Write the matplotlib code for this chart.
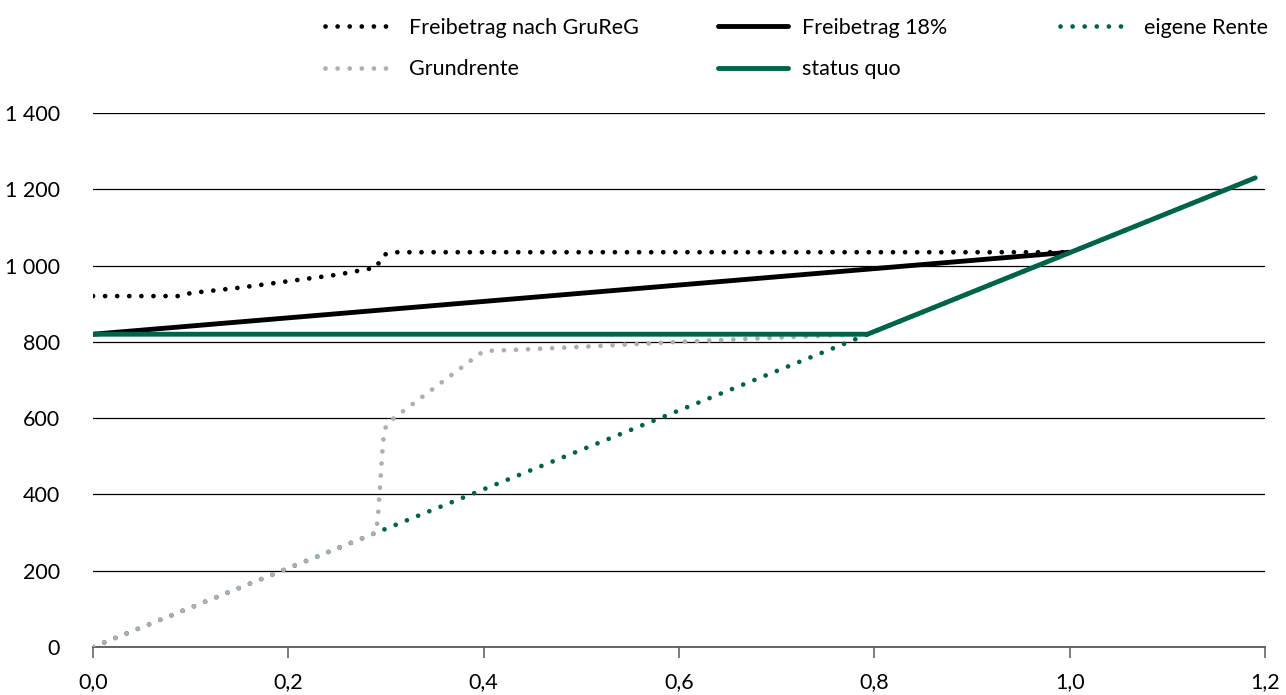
import matplotlib
matplotlib.use("Agg")
import matplotlib.pyplot as plt
from matplotlib.ticker import FuncFormatter

plt.rcParams['font.family'] = ['Lato', 'DejaVu Sans']

# ---- data ----
x_grureg = [0.0, 0.09, 0.10, 0.15, 0.20, 0.25, 0.29, 0.297, 0.305, 1.00]
y_grureg = [920, 920, 928, 942, 959, 976, 995, 1027, 1035, 1035]

x_fb18 = [0.0, 1.00]
y_fb18 = [820, 1035]

x_eigen = [0.0, 1.19]
y_eigen = [0, 1230]

x_grund = [0.0, 0.29, 0.292, 0.297, 0.300, 0.308, 0.39, 0.40, 0.45, 0.50, 0.60, 0.70, 0.785]
y_grund = [0, 300, 350, 540, 580, 600, 757, 776, 781, 787, 800, 811, 820]

x_sq = [0.0, 0.793, 1.19]
y_sq = [820, 820, 1230]

labels = ["Freibetrag nach GruReG", "Freibetrag 18%", "eigene Rente", "Grundrente", "status quo"]
y_ticks = [0, 200, 400, 600, 800, 1000, 1200, 1400]
x_ticks = [0.0, 0.2, 0.4, 0.6, 0.8, 1.0, 1.2]

GREEN = '#00644A'
GREY = '#AFAFAF'
BLACK = '#000000'

fig = plt.figure(figsize=(12.86, 6.95), dpi=100)
ax = fig.add_axes([93/1286, 1-647/695, (1265-93)/1286, (647-113)/695])

dot = (0, (0.01, 2.55))
lw_dot = 3.4
lw_solid = 3.5

l_eigen, = ax.plot(x_eigen, y_eigen, color=GREEN, lw=lw_dot, ls=dot, dash_capstyle='round', zorder=3, label=labels[2])
l_grund, = ax.plot(x_grund, y_grund, color=GREY, lw=lw_dot, ls=dot, dash_capstyle='round', zorder=4, label=labels[3])
l_grureg, = ax.plot(x_grureg, y_grureg, color=BLACK, lw=lw_dot, ls=dot, dash_capstyle='round', zorder=5, label=labels[0])
l_fb18, = ax.plot(x_fb18, y_fb18, color=BLACK, lw=lw_solid, solid_capstyle='round', zorder=6, label=labels[1])
l_sq, = ax.plot(x_sq, y_sq, color=GREEN, lw=lw_solid, solid_capstyle='round', zorder=7, label=labels[4])

ax.set_xlim(0, 1.2)
ax.set_ylim(0, 1400)
ax.set_yticks(y_ticks)
ax.set_xticks(x_ticks)
ax.yaxis.set_major_formatter(FuncFormatter(lambda v, p: f"{int(v):,}".replace(",", " ")))
ax.xaxis.set_major_formatter(FuncFormatter(lambda v, p: f"{v:.1f}".replace(".", ",")))

for s in ['top', 'right', 'left']:
    ax.spines[s].set_visible(False)
ax.spines['bottom'].set_color('#595959')
ax.spines['bottom'].set_linewidth(1.3)
ax.spines['bottom'].set_zorder(2)

fs = 15.5
ax.grid(axis='y', color='#000000', lw=0.9, zorder=1)
ax.set_axisbelow(True)
ax.tick_params(axis='y', length=0, pad=24, labelsize=fs, colors='#000000')
ax.tick_params(axis='x', direction='out', length=8, width=1.1, color='#595959', pad=10, labelsize=fs)

common = dict(frameon=False, borderpad=0, borderaxespad=0, handlelength=3.25, handletextpad=0.65,
              labelspacing=0.99, fontsize=fs, loc='upper left')
top = 1 - 18/695
fig.legend([l_grureg, l_grund], [labels[0], labels[3]], bbox_to_anchor=(325/1286, top), **common)
fig.legend([l_fb18, l_sq], [labels[1], labels[4]], bbox_to_anchor=(718/1286, top), **common)
fig.legend([l_eigen], [labels[2]], bbox_to_anchor=(1060/1286, top), **common)

fig.savefig("out.png", dpi=100)
